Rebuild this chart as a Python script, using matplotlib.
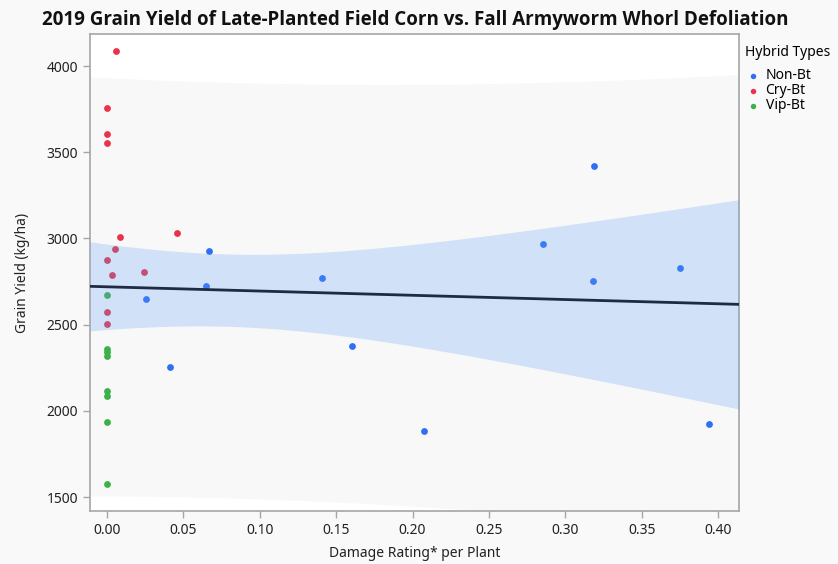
import numpy as np
import matplotlib.pyplot as plt

# damage rating per plant (x) and grain yield kg/ha (y) for each hybrid type
non_bt_x = [0.0253, 0.0415, 0.065, 0.067, 0.1408, 0.1606, 0.2077, 0.2856, 0.3182, 0.3186, 0.3751, 0.3941]
non_bt_y = [2650, 2256, 2726, 2929, 2770, 2374, 1881, 2969, 2753, 3422, 2826, 1925]

cry_bt_x = [0.0059, 0.0, 0.0, 0.0, 0.0087, 0.0456, 0.0054, 0.0, 0.0033, 0.0244, 0.0, 0.0]
cry_bt_y = [4089, 3756, 3606, 3553, 3010, 3033, 2937, 2875, 2786, 2803, 2575, 2505]

vip_bt_x = [0.0, 0.0, 0.0, 0.0, 0.0, 0.0, 0.0, 0.0]
vip_bt_y = [2670, 2360, 2340, 2320, 2115, 2086, 1935, 1575]

x_ticks = [0.00, 0.05, 0.10, 0.15, 0.20, 0.25, 0.30, 0.35, 0.40]
y_ticks = [1500, 2000, 2500, 3000, 3500, 4000]

plt.rcParams['font.family'] = ['Noto Sans', 'DejaVu Sans']

# linear fit with 95% confidence and prediction bands
x_all = np.array(non_bt_x + cry_bt_x + vip_bt_x)
y_all = np.array(non_bt_y + cry_bt_y + vip_bt_y)
n = len(x_all)
b1, b0 = np.polyfit(x_all, y_all, 1)
resid = y_all - (b0 + b1 * x_all)
s = np.sqrt(np.sum(resid ** 2) / (n - 2))
t_crit = 2.042  # t(0.975, df=30)
sxx = np.sum((x_all - x_all.mean()) ** 2)

xlim = (-0.0111, 0.4137)
xs = np.linspace(xlim[0], xlim[1], 200)
fit = b0 + b1 * xs
se_mean = s * np.sqrt(1 / n + (xs - x_all.mean()) ** 2 / sxx)
se_pred = s * np.sqrt(1 + 1 / n + (xs - x_all.mean()) ** 2 / sxx)

fig = plt.figure(figsize=(8.38, 5.64), dpi=100, facecolor='#f9f9f9')
ax = fig.add_axes([0.1074, 0.094, 0.7745, 0.8457])
ax.set_facecolor('white')

ax.fill_between(xs, fit - t_crit * se_pred, fit + t_crit * se_pred,
                color='#f8f8f8', lw=0, zorder=1)

ax.scatter(non_bt_x, non_bt_y, s=24, color='#2f6ff4', lw=0, zorder=2, label='Non-Bt')
ax.scatter(cry_bt_x, cry_bt_y, s=24, color='#e8334a', lw=0, zorder=2, label='Cry-Bt')
ax.scatter(vip_bt_x, vip_bt_y, s=24, color='#3cb14a', lw=0, zorder=2, label='Vip-Bt')

ax.fill_between(xs, fit - t_crit * se_mean, fit + t_crit * se_mean,
                color='#609ff8', alpha=0.25, lw=0, zorder=3)
ax.plot(xs, fit, color='#1e2b42', lw=2, zorder=4)

ax.set_xlim(*xlim)
ax.set_ylim(1419, 4186)
ax.set_xticks(x_ticks)
ax.set_xticklabels([f'{v:.2f}' for v in x_ticks])
ax.set_yticks(y_ticks)

for sp in ax.spines.values():
    sp.set_color('#a6a6a6')
    sp.set_linewidth(1.2)
ax.tick_params(direction='out', length=5, width=1, color='#a6a6a6',
               labelsize=10, labelcolor='#222222')

ax.set_xlabel('Damage Rating* per Plant', fontsize=10, color='#222222', labelpad=6)
ax.set_ylabel('Grain Yield (kg/ha)', fontsize=10, color='#222222', labelpad=12)
fig.suptitle('2019 Grain Yield of Late-Planted Field Corn vs. Fall Armyworm Whorl Defoliation',
             x=0.496, y=0.983, fontsize=13.5, fontweight='bold', color='#111111',
             family=['Open Sans', 'DejaVu Sans'])

leg = fig.legend(loc='upper left', bbox_to_anchor=(0.882, 0.93), frameon=False,
                 title='Hybrid Types', fontsize=10, title_fontsize=10,
                 handletextpad=0.3, borderaxespad=0, labelspacing=0.0,
                 markerscale=0.8, handlelength=1.2)
leg._legend_box.align = 'left'
leg._legend_box.sep = 6

fig.savefig('out.png', dpi=100, facecolor=fig.get_facecolor())
